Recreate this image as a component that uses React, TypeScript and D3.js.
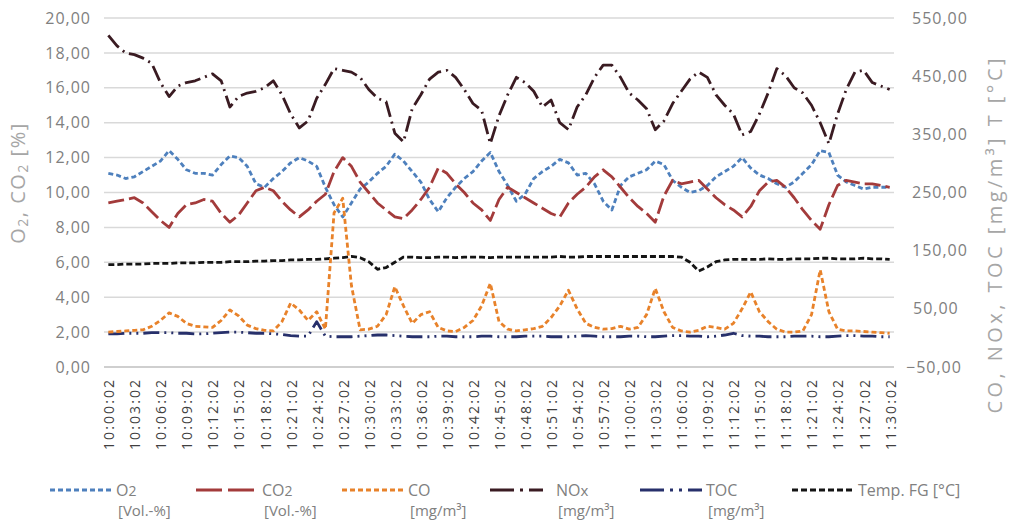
import React from 'react';
import * as d3 from 'd3';

// ---------- DATA ----------
const times: string[] = d3.range(91).map((i) => {
  const h = 10 + Math.floor(i / 60);
  const m = i % 60;
  return `${h}:${String(m).padStart(2, '0')}:02`;
});

const leftTicks = [0, 2, 4, 6, 8, 10, 12, 14, 16, 18, 20];
const rightTicks = [-50, 50, 150, 250, 350, 450, 550];

// O2 [Vol.-%] (left axis)
const o2 = [
  11.1, 11.0, 10.8, 10.9, 11.2, 11.5, 11.8, 12.4, 11.9, 11.3,
  11.1, 11.1, 11.0, 11.6, 12.1, 12.0, 11.5, 10.5, 10.3, 10.8,
  11.2, 11.7, 12.0, 11.8, 11.5, 10.3, 9.3, 8.6, 9.4, 10.2,
  10.6, 11.1, 11.5, 12.2, 11.8, 11.2, 10.6, 9.6, 8.9, 9.7,
  10.3, 10.8, 11.2, 11.8, 12.3, 11.2, 10.4, 9.5, 9.9, 10.8,
  11.2, 11.5, 11.9, 11.7, 11.0, 11.1, 10.5, 9.5, 9.0, 10.4,
  10.9, 11.1, 11.3, 11.8, 11.6, 10.7, 10.3, 10.0, 10.1, 10.4,
  10.9, 11.2, 11.5, 12.0, 11.4, 11.0, 10.8, 10.5, 10.3, 10.6,
  11.1, 11.6, 12.4, 12.3, 11.0, 10.6, 10.4, 10.2, 10.3, 10.3, 10.3,
];

// CO2 [Vol.-%] (left axis)
const co2 = [
  9.4, 9.5, 9.6, 9.7, 9.4, 8.9, 8.4, 8.0, 8.8, 9.3,
  9.4, 9.6, 9.5, 8.8, 8.3, 8.7, 9.4, 10.1, 10.3, 10.1,
  9.5, 9.0, 8.6, 9.0, 9.5, 9.9, 11.2, 12.0, 11.5, 10.6,
  10.0, 9.4, 9.0, 8.6, 8.5, 9.0, 9.6, 10.3, 11.4, 11.1,
  10.5, 10.0, 9.4, 9.0, 8.4, 9.6, 10.3, 10.0, 9.7, 9.4,
  9.1, 8.8, 8.6, 9.4, 9.9, 10.3, 10.9, 11.3, 10.9, 10.3,
  9.7, 9.2, 8.8, 8.3, 9.8, 10.7, 10.5, 10.6, 10.7, 10.2,
  9.7, 9.3, 9.0, 8.6, 9.2, 10.1, 10.6, 10.7, 10.3, 9.7,
  9.0, 8.4, 7.9, 9.3, 10.4, 10.7, 10.6, 10.5, 10.5, 10.4, 10.3,
];

// CO [mg/m3] (right axis)
const co = [
  10, 11, 12, 13, 14, 20, 30, 43, 37, 25,
  20, 19, 18, 30, 48, 38, 22, 16, 13, 12,
  28, 60, 48, 30, 45, 15, 215, 240, 90, 14,
  15, 20, 40, 88, 55, 25, 40, 45, 18, 12,
  11, 18, 30, 55, 94, 28, 15, 12, 14, 16,
  20, 35, 55, 82, 50, 25, 18, 15, 16, 20,
  15, 18, 40, 85, 45, 18, 12, 10, 13, 20,
  18, 15, 25, 50, 79, 45, 28, 15, 10, 10,
  12, 40, 117, 45, 15, 12, 12, 11, 10, 9, 8,
];

// NOx [mg/m3] (right axis)
const nox = [
  520, 502, 490, 487, 481, 472, 439, 415, 433, 439,
  442, 448, 454, 442, 397, 415, 421, 424, 430, 442,
  418, 385, 361, 373, 412, 436, 463, 460, 457, 448,
  427, 412, 406, 352, 337, 394, 418, 445, 457, 460,
  448, 427, 403, 391, 334, 382, 418, 448, 439, 424,
  397, 409, 370, 358, 397, 418, 448, 469, 469, 448,
  421, 409, 394, 358, 373, 403, 424, 445, 457, 448,
  418, 400, 385, 349, 355, 385, 421, 463, 451, 430,
  421, 400, 370, 334, 385, 427, 457, 460, 439, 433, 427,
];

// TOC [mg/m3] (right axis)
const toc = [
  7, 7, 8, 8, 8, 9, 9, 9, 8, 8,
  7, 7, 8, 9, 10, 10, 9, 8, 8, 7,
  6, 4, 3, 3, 28, 3, 2, 2, 2, 3,
  4, 5, 5, 4, 3, 2, 2, 2, 3, 3,
  2, 2, 2, 3, 3, 2, 2, 2, 3, 3,
  3, 2, 2, 2, 3, 4, 3, 2, 2, 2,
  3, 3, 2, 2, 3, 4, 4, 3, 3, 2,
  3, 5, 8, 4, 3, 3, 2, 2, 2, 3,
  3, 3, 2, 2, 3, 4, 4, 3, 3, 2, 2,
];

// Temp. FG [°C] (right axis)
const temp = [
  126, 126, 127, 127, 127, 128, 128, 128, 129, 129,
  129, 130, 130, 130, 131, 131, 131, 132, 132, 133,
  133, 134, 134, 135, 135, 136, 137, 138, 140, 138,
  131, 118, 121, 130, 139, 139, 138, 138, 139, 139,
  138, 139, 139, 139, 138, 139, 139, 139, 139, 139,
  139, 139, 140, 139, 139, 140, 140, 140, 140, 140,
  140, 140, 140, 140, 140, 140, 139, 130, 115, 122,
  131, 134, 135, 135, 135, 135, 136, 135, 135, 136,
  136, 136, 137, 137, 136, 136, 136, 137, 136, 136, 135,
];

// ---------- LAYOUT / STYLE ----------
const W = 1010;
const H = 521;
const PL = 104;
const PR = 894;
const PT = 18;
const PB = 367;
const FONT = "'Open Sans', 'Liberation Sans', sans-serif";

type Series = {
  key: string;
  values: number[];
  axis: 'L' | 'R';
  color: string;
  dash: string;
};

const series: Series[] = [
  { key: 'temp', values: temp, axis: 'R', color: '#141414', dash: '6,3' },
  { key: 'o2', values: o2, axis: 'L', color: '#4e80bd', dash: '5,3' },
  { key: 'co2', values: co2, axis: 'L', color: '#a33b3b', dash: '16,5' },
  { key: 'nox', values: nox, axis: 'R', color: '#3a1b22', dash: '16,5,2,5' },
  { key: 'toc', values: toc, axis: 'R', color: '#27306b', dash: '16,5,2,5,2,5' },
  { key: 'co', values: co, axis: 'R', color: '#e8822a', dash: '5,3' },
];

const legendItems = [
  { name: 'O', sub: '2', unit: '[Vol.-%]', color: '#4e80bd', dash: '5,3', x: 50 },
  { name: 'CO', sub: '2', unit: '[Vol.-%]', color: '#a33b3b', dash: '26,6', x: 196 },
  { name: 'CO', sub: '', unit: '[mg/m³]', color: '#e8822a', dash: '5,3', x: 342 },
  { name: 'NO', sub: 'x', unit: '[mg/m³]', color: '#3a1b22', dash: '24,6,3,6,14', x: 490 },
  { name: 'TOC', sub: '', unit: '[mg/m³]', color: '#27306b', dash: '24,6,3,6,3,6,20', x: 640 },
  { name: 'Temp. FG [°C]', sub: '', unit: '', color: '#141414', dash: '6,3', x: 792 },
];

const fmt = (v: number) => d3.format('.2f')(v).replace('.', ',');

export default function App() {
  const x = d3.scaleBand<string>().domain(times).range([PL, PR]);
  const cx = (i: number) => (x(times[i]) as number) + x.bandwidth() / 2;
  const yL = d3.scaleLinear().domain([0, 20]).range([PB, PT]);
  const yR = d3.scaleLinear().domain([-50, 550]).range([PB, PT]);

  const lineFor = (s: Series) =>
    d3
      .line<number>()
      .x((_, i) => cx(i))
      .y((v) => (s.axis === 'L' ? yL(v) : yR(v)))(s.values) as string;

  return (
    <svg
      width={W}
      height={H}
      style={{ position: 'absolute', left: 0, top: 0, background: '#fff' }}
      fontFamily={FONT}
    >
      <rect x={0} y={0} width={W} height={H} fill="#fff" />
      {/* gridlines */}
      {leftTicks.map((t) => (
        <line
          key={'g' + t}
          x1={PL}
          x2={PR}
          y1={yL(t)}
          y2={yL(t)}
          stroke={t === 0 ? '#bfbfbf' : '#d9d9d9'}
          strokeWidth={1.5}
        />
      ))}
      {/* left tick labels */}
      {leftTicks.map((t) => (
        <text
          key={'l' + t}
          x={91}
          y={yL(t)}
          dy="0.35em"
          textAnchor="end"
          fontSize={16}
          letterSpacing={1}
          fill="#808080"
        >
          {fmt(t)}
        </text>
      ))}
      {/* right tick labels */}
      {rightTicks.map((t) => (
        <text
          key={'r' + t}
          x={t < 0 ? 906 : t < 100 ? 913 : 912}
          y={yR(t)}
          dy="0.35em"
          textAnchor="start"
          fontSize={16}
          letterSpacing={1}
          fill="#808080"
        >
          {fmt(t)}
        </text>
      ))}
      {/* x tick labels */}
      {times.map((t, i) =>
        i % 3 === 0 ? (
          <text
            key={'x' + t}
            transform={`translate(${cx(i) + 1},${380}) rotate(-90)`}
            textAnchor="end"
            dy="0.35em"
            fontSize={14}
            textLength={70}
            lengthAdjust="spacing"
            fill="#404040"
          >
            {t}
          </text>
        ) : null
      )}
      {/* axis titles */}
      <text
        transform={`translate(25,183) rotate(-90)`}
        textAnchor="middle"
        fontSize={20}
        fill="#a6a6a6"
        letterSpacing={1.5}
      >
        O<tspan fontSize={14} dy={3}>2</tspan>
        <tspan dy={-3}>, CO</tspan>
        <tspan fontSize={14} dy={3}>2</tspan>
        <tspan dy={-3}> [%]</tspan>
      </text>
      <text
        transform={`translate(1002,236) rotate(-90)`}
        textAnchor="middle"
        fontSize={20}
        fill="#a6a6a6"
        textLength={355}
        lengthAdjust="spacing"
      >
        CO, NOx, TOC [mg/m³] T [°C]
      </text>
      {/* series */}
      {series.map((s) => (
        <path
          key={s.key}
          d={lineFor(s)}
          fill="none"
          stroke={s.color}
          strokeWidth={2.8}
          strokeDasharray={s.dash}
          strokeLinejoin="round"
        />
      ))}
      {/* legend */}
      {legendItems.map((it) => (
        <g key={it.name + it.x}>
          <line
            x1={it.x}
            x2={it.x + 62}
            y1={490}
            y2={490}
            stroke={it.color}
            strokeWidth={2.8}
            strokeDasharray={it.dash}
          />
          <text x={it.x + 66} y={490} dy="0.35em" fontSize={16} fill="#808080">
            {it.name}
            {it.sub ? (
              <tspan fontSize={it.sub === 'x' ? 15 : 14}>{it.sub}</tspan>
            ) : null}
          </text>
          {it.unit ? (
            <text x={it.x + 68} y={511} dy="0.35em" fontSize={15} fill="#808080">
              {it.unit}
            </text>
          ) : null}
        </g>
      ))}
    </svg>
  );
}
